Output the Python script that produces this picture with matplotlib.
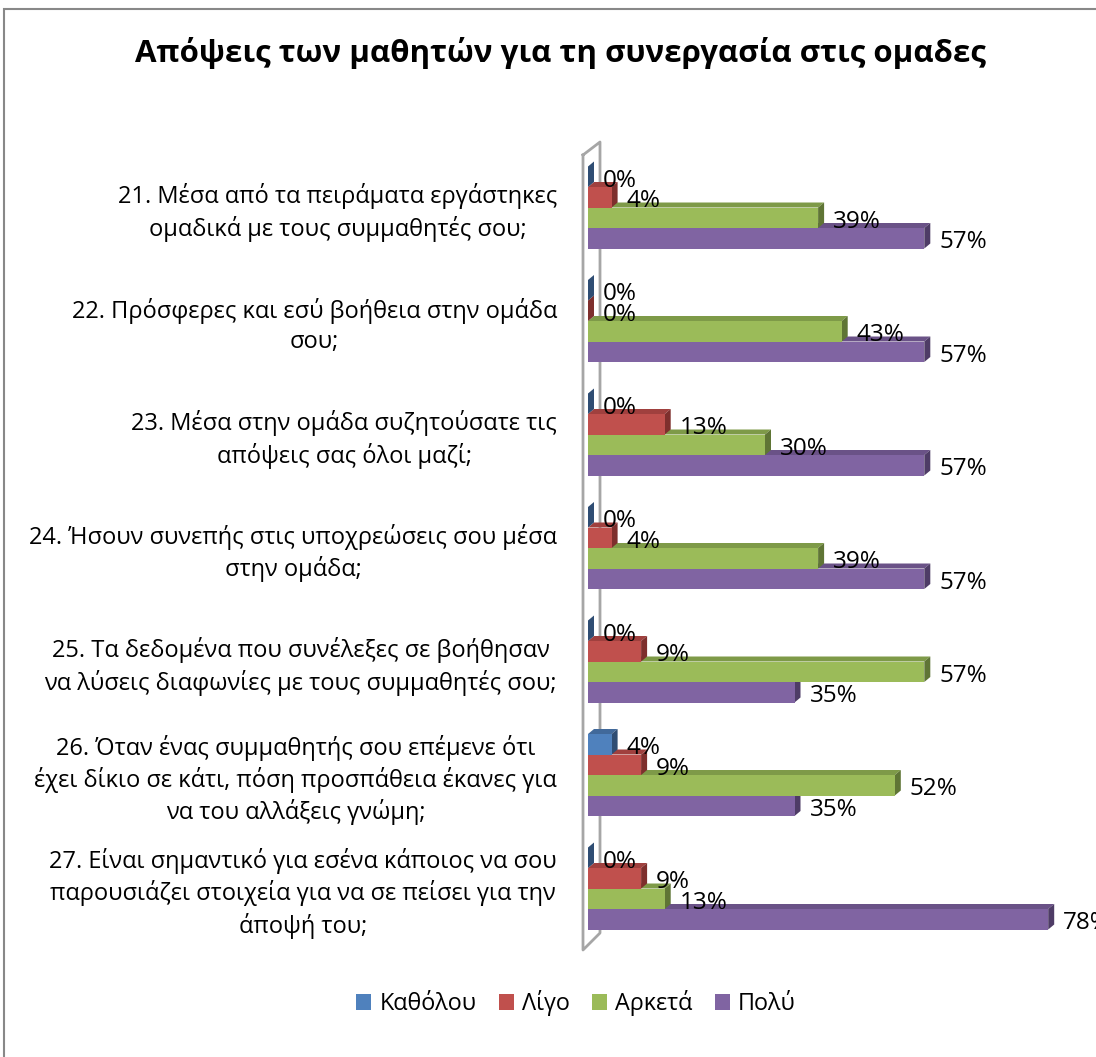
import matplotlib
matplotlib.use("Agg")
import matplotlib.pyplot as plt
from matplotlib.patches import Polygon, Rectangle, Patch
from matplotlib.lines import Line2D

plt.rcParams['font.family'] = ['Open Sans', 'DejaVu Sans']

title = "Απόψεις των μαθητών για τη συνεργασία στις ομαδες"
categories = [
    "21. Μέσα από τα πειράματα εργάστηκες\nομαδικά με τους συμμαθητές σου;",
    "22. Πρόσφερες και εσύ βοήθεια στην ομάδα\nσου;",
    "23. Μέσα στην ομάδα συζητούσατε τις\nαπόψεις σας όλοι μαζί;",
    "24. Ήσουν συνεπής στις υποχρεώσεις σου μέσα\nστην ομάδα;",
    "25. Τα δεδομένα που συνέλεξες σε βοήθησαν\nνα λύσεις διαφωνίες με τους συμμαθητές σου;",
    "26. Όταν ένας συμμαθητής σου επέμενε ότι\nέχει δίκιο σε κάτι, πόση προσπάθεια έκανες για\nνα του αλλάξεις γνώμη;",
    "27. Είναι σημαντικό για εσένα κάποιος να σου\nπαρουσιάζει στοιχεία για να σε πείσει για την\nάποψή του;",
]
series_names = ["Καθόλου", "Λίγο", "Αρκετά", "Πολύ"]
katholou = [0, 0, 0, 0, 0, 4, 0]
ligo = [4, 0, 13, 4, 9, 9, 9]
arketa = [39, 43, 30, 39, 57, 52, 13]
poly = [57, 57, 57, 57, 35, 35, 78]
series_values = [katholou, ligo, arketa, poly]

front_colors = ["#4F81BD", "#C0504D", "#9BBB59", "#8064A2"]
top_colors = ["#41699A", "#A0403E", "#7E9A48", "#6A5287"]
side_colors = ["#2F4D73", "#7E2F2D", "#5F7535", "#4E3C66"]

W, H = 1096, 1057
fig = plt.figure(figsize=(W / 100, H / 100), dpi=100)

# pixel geometry
x0_px = 588.0
px_per_pct = 5.9
g0_px = 207.5
g_step = 113.5
xmin, xmax = -1.5, 80
top_px, bot_px = 145, 945
left_px = x0_px + xmin * px_per_pct
right_px = x0_px + xmax * px_per_pct

ax = fig.add_axes([left_px / W, 1 - bot_px / H, (right_px - left_px) / W, (bot_px - top_px) / H])
ax.set_xlim(xmin, xmax)
ax.set_ylim((bot_px - g0_px) / g_step, (top_px - g0_px) / g_step)
ax.axis('off')

bar_h = 20.5 / g_step
dx = 6.0 / px_per_pct
dy = -5.0 / g_step

def px2d(xp, yp):
    return ((xp - x0_px) / px_per_pct, (yp - g0_px) / g_step)

# 3D wall outline
wall_pts = [px2d(583, 155), px2d(583, 950), px2d(600, 933), px2d(600, 142), px2d(583, 155)]
ax.add_line(Line2D([p[0] for p in wall_pts], [p[1] for p in wall_pts],
                   color="#A6A6A6", lw=2, clip_on=False, zorder=1))

for gi in range(len(categories)):
    for k in range(3, -1, -1):
        v = series_values[k][gi]
        yc = gi + (k - 1.5) * bar_h
        yt, yb = yc - bar_h / 2, yc + bar_h / 2
        z = 10 + (4 - k) * 3
        ax.add_patch(Polygon([(0, yt), (v, yt), (v + dx, yt + dy), (dx, yt + dy)],
                             closed=True, facecolor=top_colors[k], edgecolor='none',
                             zorder=z, clip_on=False))
        ax.add_patch(Polygon([(v, yt), (v + dx, yt + dy), (v + dx, yb + dy), (v, yb)],
                             closed=True, facecolor=side_colors[k], edgecolor='none',
                             zorder=z + 1, clip_on=False))
        ax.add_patch(Rectangle((0, yt), v, bar_h, facecolor=front_colors[k],
                               edgecolor='none', zorder=z + 2, clip_on=False))
        ax.text(v + 15 / px_per_pct, yc + 4 / g_step, f"{v}%", fontsize=17.5,
                ha='left', va='center', color='black', zorder=40, clip_on=False)

ytr = ax.get_yaxis_transform()
lab_x = (557 - left_px) / (right_px - left_px)
for gi, lab in enumerate(categories):
    ax.text(lab_x, gi + 5 / g_step, lab, transform=ytr, ha='right', va='center',
            multialignment='center', fontsize=17, linespacing=1.32, color='black')

fig.text(560 / W, 1 - 53 / H, title, ha='center', va='center', fontsize=22.5,
         fontweight='bold', color='black')

handles = [Patch(facecolor=c, edgecolor='none') for c in front_colors]
fig.legend(handles, series_names, loc='center', bbox_to_anchor=(576 / W, 1 - 1003 / H),
           ncol=4, frameon=False, fontsize=16.8, handlelength=0.65, handleheight=0.65,
           handletextpad=0.35, columnspacing=0.95)

fig.add_artist(Rectangle((4 / W, -0.05), 1.1, 1 - 9 / H + 0.05, transform=fig.transFigure,
                         facecolor='none', edgecolor='#888888', lw=1.5))

fig.savefig("out.png", dpi=100, facecolor='white')
